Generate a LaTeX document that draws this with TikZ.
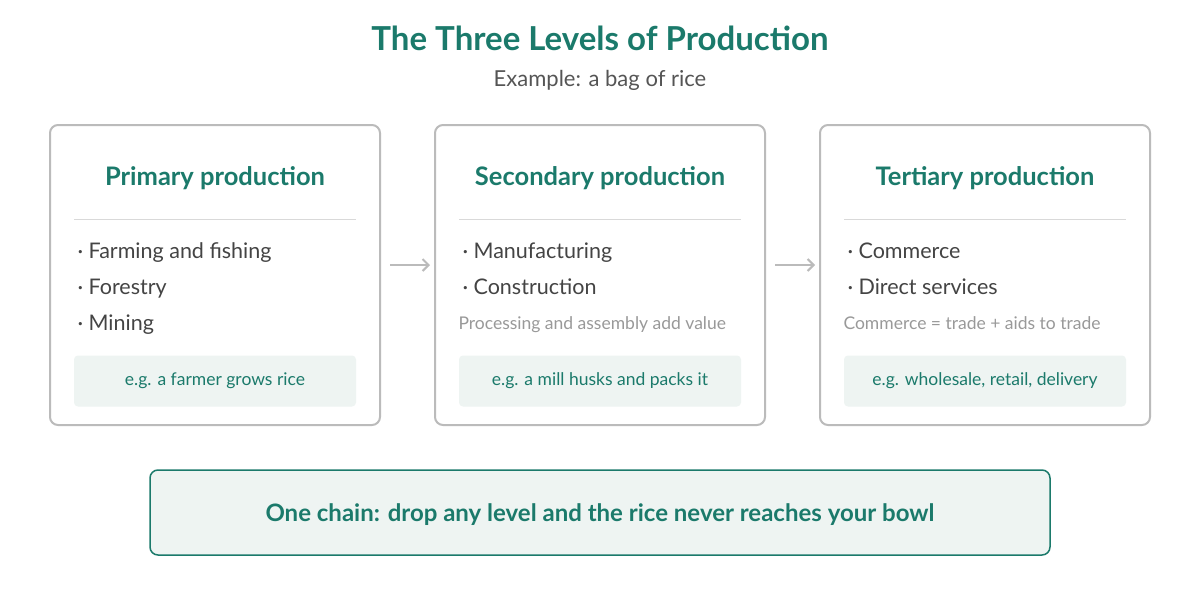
\documentclass[tikz,border=0pt]{standalone}
\usepackage{fontspec}
\setmainfont{Lato}
\usetikzlibrary{arrows.meta}
\definecolor{teal}{HTML}{1B7A6B}
\definecolor{txt}{HTML}{444444}
\definecolor{sub}{HTML}{555555}
\definecolor{note}{HTML}{999999}
\definecolor{bord}{HTML}{BBBBBB}
\definecolor{exfill}{HTML}{EEF4F2}
\begin{document}
\begin{tikzpicture}[x=1pt,y=-1pt,
 card/.style={draw=bord,line width=2pt,rounded corners=8pt,fill=white},
 head/.style={font=\fontsize{25.5}{28}\selectfont\bfseries,text=teal},
 item/.style={anchor=base west,font=\fontsize{21.5}{24}\selectfont,text=txt},
 notet/.style={anchor=base west,font=\fontsize{17.5}{20}\selectfont,text=note},
 ext/.style={font=\fontsize{17.5}{20}\selectfont,text=teal},
 exbox/.style={fill=exfill,rounded corners=4pt,minimum width=282pt,minimum height=51pt},
 arr/.style={draw=bord,line width=2pt,-{Straight Barb[length=6pt,width=12pt]}}]
\useasboundingbox (0,0) rectangle (1200,600);
\node[font=\fontsize{33}{36}\selectfont\bfseries,text=teal] (title) at (600,38) {The Three Levels of Production};
\node[font=\fontsize{22}{25}\selectfont,text=sub] (subt) at (600,80) {Example: a bag of rice};
\foreach \i/\x/\h in {1/50/Primary production,2/435/Secondary production,3/820/Tertiary production}{
 \draw[card] (\x,125) rectangle (\x+330,425);
 \node[head] (h\i) at (\x+165,178) {\h};
 \draw[draw=black!15,line width=1pt] (\x+24,219) -- (\x+306,219);
 \node[exbox] (e\i) at (\x+165,381) {};
}
\node[item] (a1) at (74,258) {· Farming and fishing};
\node[item] (a2) at (74,294) {· Forestry};
\node[item] (a3) at (74,330) {· Mining};
\node[item] (b1) at (459,258) {· Manufacturing};
\node[item] (b2) at (459,294) {· Construction};
\node[notet] (bn) at (455,329) {Processing and assembly add value};
\node[item] (c1) at (844,258) {· Commerce};
\node[item] (c2) at (844,294) {· Direct services};
\node[notet] (cn) at (840,329) {Commerce = trade + aids to trade};
\node[ext] at (e1) {e.g. a farmer grows rice};
\node[ext] at (e2) {e.g. a mill husks and packs it};
\node[ext] at (e3) {e.g. wholesale, retail, delivery};
\coordinate (p1) at (390,265); \coordinate (p2) at (430,265);
\coordinate (q1) at (775,265); \coordinate (q2) at (815,265);
\draw[arr] (p1) -- (p2);
\draw[arr] (q1) -- (q2);
\draw[draw=teal,line width=1.5pt,fill=exfill,rounded corners=8pt] (150,470) rectangle (1050,555);
\node[font=\fontsize{24}{27}\selectfont\bfseries,text=teal] (bot) at (600,515) {One chain: drop any level and the rice never reaches your bowl};
\end{tikzpicture}
\end{document}
